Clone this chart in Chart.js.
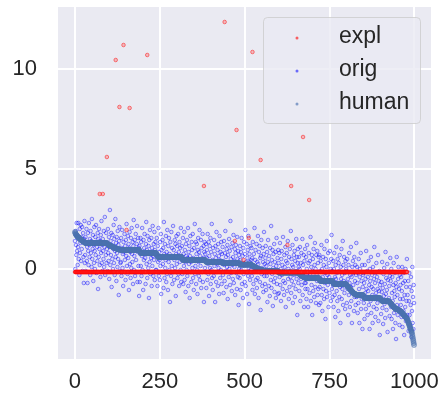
<!DOCTYPE html>
<html>
<head>
<meta charset="utf-8">
<script src="https://cdn.jsdelivr.net/npm/chart.js@4"></script>
<style>
html,body{margin:0;padding:0;background:#ffffff;}
canvas{display:block;}
</style>
</head>
<body>
<canvas id="c" width="441" height="401"></canvas>
<script>
// ---- data ----
const seriesNames = ['expl', 'orig', 'human'];
const xTicks = [0, 250, 500, 750, 1000];
const yTicks = [0, 5, 10];

const expl = [
-.15,-.15,-.15,-.15,-.15,-.15,-.15,-.15,-.15,-.15,
-.15,-.15,-.15,-.15,-.15,-.15,-.15,-.15,-.15,-.15,
-.15,-.15,-.15,-.15,-.15,-.15,-.15,-.15,-.15,-.15,
-.15,-.15,-.15,-.15,-.15,-.15,-.15,-.15,-.15,-.15,
-.15,-.15,-.15,-.15,-.15,-.15,-.15,-.15,-.15,-.15,
-.15,-.15,-.15,-.15,-.15,-.15,-.15,-.15,-.15,-.15,
-.15,-.15,-.15,-.15,-.15,-.15,-.15,-.15,-.15,-.15,
-.15,-.15,-.15,3.75,-.15,-.15,-.15,-.15,-.15,-.15,
-.15,-.15,3.75,-.15,-.15,-.15,-.15,-.15,-.15,-.15,
-.15,-.15,-.15,-.15,5.6,-.15,-.15,-.15,-.15,-.15,
-.15,-.15,-.15,-.15,-.15,-.15,-.15,-.15,-.15,-.15,
-.15,-.15,-.15,-.15,-.15,-.15,-.15,-.15,-.15,-.15,
10.45,-.15,-.15,-.15,-.15,-.15,-.15,-.15,-.15,-.15,
-.15,8.1,-.15,-.15,-.15,-.15,-.15,-.15,-.15,-.15,
-.15,-.15,-.15,11.2,-.15,-.15,-.15,-.15,-.15,-.15,
-.15,-.15,1.95,-.15,-.15,-.15,-.15,-.15,-.15,-.15,
-.15,8.05,-.15,-.15,-.15,-.15,-.15,-.15,-.15,-.15,
-.15,-.15,-.15,-.15,-.15,-.15,-.15,-.15,-.15,-.15,
-.15,-.15,-.15,-.15,-.15,-.15,-.15,-.15,-.15,-.15,
-.15,-.15,-.15,-.15,-.15,-.15,-.15,-.15,-.15,-.15,
-.15,-.15,-.15,-.15,-.15,-.15,-.15,-.15,-.15,-.15,
-.15,-.15,-.15,10.7,-.15,-.15,-.15,-.15,-.15,-.15,
-.15,-.15,-.15,-.15,-.15,-.15,-.15,-.15,-.15,-.15,
-.15,-.15,-.15,-.15,-.15,-.15,-.15,-.15,-.15,-.15,
-.15,-.15,-.15,-.15,-.15,-.15,-.15,-.15,-.15,-.15,
-.15,-.15,-.15,-.15,-.15,-.15,-.15,-.15,-.15,-.15,
-.15,-.15,-.15,-.15,-.15,-.15,-.15,-.15,-.15,-.15,
-.15,-.15,-.15,-.15,-.15,-.15,-.15,-.15,-.15,-.15,
-.15,-.15,-.15,-.15,-.15,-.15,-.15,-.15,-.15,-.15,
-.15,-.15,-.15,-.15,-.15,-.15,-.15,-.15,-.15,-.15,
-.15,-.15,-.15,-.15,-.15,-.15,-.15,-.15,-.15,-.15,
-.15,-.15,-.15,-.15,-.15,-.15,-.15,-.15,-.15,-.15,
-.15,-.15,-.15,-.15,-.15,-.15,-.15,-.15,-.15,-.15,
-.15,-.15,-.15,-.15,-.15,-.15,-.15,-.15,-.15,-.15,
-.15,-.15,-.15,-.15,-.15,-.15,-.15,-.15,-.15,-.15,
-.15,-.15,-.15,-.15,-.15,-.15,-.15,-.15,-.15,-.15,
-.15,-.15,-.15,-.15,-.15,-.15,-.15,-.15,-.15,-.15,
-.15,-.15,-.15,-.15,-.15,-.15,-.15,-.15,-.15,-.15,
4.15,-.15,-.15,-.15,-.15,-.15,-.15,-.15,-.15,-.15,
-.15,-.15,-.15,-.15,-.15,-.15,-.15,-.15,-.15,-.15,
-.15,-.15,-.15,-.15,-.15,-.15,-.15,-.15,-.15,-.15,
-.15,-.15,-.15,-.15,-.15,-.15,-.15,-.15,-.15,-.15,
-.15,-.15,-.15,-.15,-.15,-.15,-.15,-.15,-.15,-.15,
-.15,-.15,-.15,-.15,-.15,-.15,-.15,-.15,-.15,-.15,
-.15,12.35,-.15,-.15,-.15,-.15,-.15,-.15,-.15,-.15,
-.15,-.15,-.15,-.15,-.15,-.15,-.15,-.15,-.15,-.15,
-.15,-.15,-.15,-.15,-.15,-.15,-.15,-.15,-.15,-.15,
-.15,1.4,-.15,-.15,-.15,-.15,6.95,-.15,-.15,-.15,
-.15,-.15,-.15,-.15,-.15,-.15,-.15,-.15,-.15,-.15,
-.15,-.15,-.15,-.15,-.15,-.15,-.15,0.45,-.15,-.15,
-.15,-.15,-.15,-.15,-.15,-.15,-.15,-.15,-.15,-.15,
-.15,-.15,1.55,-.15,-.15,-.15,-.15,-.15,-.15,-.15,
-.15,-.15,-.15,10.85,-.15,-.15,-.15,-.15,-.15,-.15,
-.15,-.15,-.15,-.15,-.15,-.15,-.15,-.15,-.15,-.15,
-.15,-.15,-.15,-.15,-.15,-.15,-.15,5.45,-.15,-.15,
-.15,-.15,-.15,-.15,-.15,-.15,-.15,-.15,-.15,-.15,
-.15,-.15,-.15,-.15,-.15,-.15,-.15,-.15,-.15,-.15,
-.15,-.15,-.15,-.15,-.15,-.15,-.15,-.15,-.15,-.15,
-.15,-.15,-.15,-.15,-.15,-.15,-.15,-.15,-.15,-.15,
-.15,-.15,-.15,-.15,-.15,-.15,-.15,-.15,-.15,-.15,
-.15,-.15,-.15,-.15,-.15,-.15,-.15,-.15,-.15,-.15,
-.15,-.15,-.15,-.15,-.15,-.15,-.15,-.15,-.15,-.15,
-.15,-.15,-.15,-.15,-.15,-.15,1.2,-.15,-.15,-.15,
-.15,-.15,-.15,-.15,-.15,-.15,-.15,4.15,-.15,-.15,
-.15,-.15,-.15,-.15,-.15,-.15,-.15,-.15,-.15,-.15,
-.15,-.15,-.15,-.15,-.15,-.15,-.15,-.15,-.15,-.15,
-.15,-.15,-.15,-.15,-.15,-.15,-.15,-.15,-.15,-.15,
-.15,-.15,6.6,-.15,-.15,-.15,-.15,-.15,-.15,-.15,
-.15,-.15,-.15,-.15,-.15,-.15,-.15,-.15,-.15,-.15,
3.45,-.15,-.15,-.15,-.15,-.15,-.15,-.15,-.15,-.15,
-.15,-.15,-.15,-.15,-.15,-.15,-.15,-.15,-.15,-.15,
-.15,-.15,-.15,-.15,-.15,-.15,-.15,-.15,-.15,-.15,
-.15,-.15,-.15,-.15,-.15,-.15,-.15,-.15,-.15,-.15,
-.15,-.15,-.15,-.15,-.15,-.15,-.15,-.15,-.15,-.15,
-.15,-.15,-.15,-.15,-.15,-.15,-.15,-.15,-.15,-.15,
-.15,-.15,-.15,-.15,-.15,-.15,-.15,-.15,-.15,-.15,
-.15,-.15,-.15,-.15,-.15,-.15,-.15,-.15,-.15,-.15,
-.15,-.15,-.15,-.15,-.15,-.15,-.15,-.15,-.15,-.15,
-.15,-.15,-.15,-.15,-.15,-.15,-.15,-.15,-.15,-.15,
-.15,-.15,-.15,-.15,-.15,-.15,-.15,-.15,-.15,-.15,
-.15,-.15,-.15,-.15,-.15,-.15,-.15,-.15,-.15,-.15,
-.15,-.15,-.15,-.15,-.15,-.15,-.15,-.15,-.15,-.15,
-.15,-.15,-.15,-.15,-.15,-.15,-.15,-.15,-.15,-.15,
-.15,-.15,-.15,-.15,-.15,-.15,-.15,-.15,-.15,-.15,
-.15,-.15,-.15,-.15,-.15,-.15,-.15,-.15,-.15,-.15,
-.15,-.15,-.15,-.15,-.15,-.15,-.15,-.15,-.15,-.15,
-.15,-.15,-.15,-.15,-.15,-.15,-.15,-.15,-.15,-.15,
-.15,-.15,-.15,-.15,-.15,-.15,-.15,-.15,-.15,-.15,
-.15,-.15,-.15,-.15,-.15,-.15,-.15,-.15,-.15,-.15,
-.15,-.15,-.15,-.15,-.15,-.15,-.15,-.15,-.15,-.15,
-.15,-.15,-.15,-.15,-.15,-.15,-.15,-.15,-.15,-.15,
-.15,-.15,-.15,-.15,-.15,-.15,-.15,-.15,-.15,-.15,
-.15,-.15,-.15,-.15,-.15,-.15,-.15,-.15,-.15,-.15,
-.15,-.15,-.15,-.15,-.15,-.15,-.15,-.15,-.15,-.15,
-.15,-.15,-.15,-.15,-.15,-.15,-.15,-.15,-.15,-.15,
-.15,-.15,-.15,-.15,-.15,-.15,-.15,-.15,-.15,-.15,
-.15,-.15,-.15,-.15,-.15,-.15,-.15,-.15,-.15,-.15,
-.15,-.15,-.15,-.15,-.15,-.15,-.15,-.15,-.15,-.15
];

const orig = [
1.4,0.0,1.9,1.2,0.7,2.3,0.9,1.7,0.2,1.1,
2.3,0.5,1.5,-0.3,2.0,0.8,1.3,2.2,0.4,1.6,
1.0,2.1,-0.1,1.4,1.8,0.6,-0.7,1.5,2.4,0.3,
0.7,1.6,-0.1,1.3,2.0,0.4,1.1,-0.7,1.8,0.9,
0.2,2.3,1.2,0.6,1.5,-0.3,1.9,0.8,1.4,0.1,
2.5,0.5,1.0,1.7,-0.6,1.2,0.3,2.1,0.9,0.0,
1.6,0.7,2.2,-0.2,1.3,1.1,0.4,1.8,-1.0,1.5,
0.6,2.0,1.0,0.2,1.4,-0.4,1.7,0.8,2.4,0.3,
1.2,-0.1,1.5,0.9,0.5,1.9,0.1,1.1,2.6,-0.3,
1.3,0.7,1.8,0.3,1.0,
1.3,-0.1,2.0,0.8,0.4,1.6,-0.5,1.1,2.95,0.2,
1.4,0.7,1.8,-0.9,1.2,0.5,1.7,0.0,1.0,2.2,
0.3,1.5,-0.3,0.9,2.5,0.6,1.3,-0.6,1.6,0.8,
0.1,1.9,0.5,1.2,-1.3,1.4,2.1,-0.1,1.0,0.3,
0.35,1.55,-0.35,1.05,1.95,0.05,0.75,-0.85,1.35,0.85,
-0.15,1.75,0.45,1.15,-0.55,1.45,0.65,2.25,0.15,0.95,
-0.25,1.65,0.55,1.25,-1.05,1.05,1.85,0.25,0.85,-0.45,
1.55,0.05,2.05,0.75,0.35,1.35,-0.75,1.15,2.45,-0.05,
0.65,1.45,-0.35,0.95,1.75,0.45,-0.15,1.25,2.15,-0.65,
0.85,1.55,0.15,1.05,-1.35,
1.15,-0.65,0.75,1.55,0.15,1.35,-0.35,0.65,2.05,-0.05,
0.85,-1.05,1.45,0.45,1.05,1.75,-0.15,0.55,-0.75,1.25,
2.35,0.25,0.95,-0.45,1.65,0.75,0.05,1.15,-1.45,1.45,
0.35,1.95,-0.25,0.85,0.55,1.55,-0.85,1.05,0.15,2.15,
0.65,-0.35,1.25,0.45,1.85,-0.55,0.95,1.35,-0.05,0.75,
-0.05,1.55,0.65,-0.85,1.15,0.35,2.05,-0.35,0.85,0.45,
-0.55,1.35,0.15,1.75,-1.25,0.95,0.55,-0.15,1.45,0.25,
1.05,-0.95,2.35,0.75,-0.45,1.25,0.05,0.45,1.65,-0.65,
0.85,-0.25,1.95,0.65,-1.05,1.15,0.35,1.55,-0.05,0.75,
-1.65,1.35,0.55,-0.35,1.85,0.15,1.05,-0.75,0.65,2.15,
-0.15,0.95,-0.55,0.45,1.45,0.05,1.25,-1.35,0.75,1.65,
0.25,1.15,-0.45,0.55,1.75,-0.25,0.85,-0.85,1.35,0.35,
1.05,-0.05,2.05,-0.65,0.65,
1.15,-0.25,0.45,1.55,-0.75,0.75,0.15,1.85,-0.55,0.95,
0.35,-1.15,1.25,0.65,-0.05,1.45,-0.35,0.55,2.05,-0.85,
0.85,0.25,1.15,-1.45,0.65,1.65,-0.15,0.35,-0.65,1.35,
0.95,0.05,1.75,-0.45,0.55,-1.05,1.05,0.45,2.25,-0.25,
0.15,1.35,-0.75,0.75,1.25,-0.05,-1.25,0.95,1.55,0.35,
-0.35,0.85,1.95,-0.55,0.65,0.15,1.45,-0.95,1.05,0.45,
-0.15,1.75,-0.65,0.55,1.15,-1.65,0.85,1.35,0.05,0.75,
-0.15,1.25,-0.95,0.55,0.95,-0.55,1.75,0.25,-0.25,1.35,
-1.35,0.65,1.15,0.05,1.55,-0.75,0.85,-0.05,2.25,-0.45,
0.45,-1.05,1.05,0.35,-0.35,1.45,0.15,0.75,-1.65,1.15,
0.55,-0.65,1.85,-0.15,0.25,0.95,-0.85,1.25,0.05,0.65,
-1.25,1.65,0.45,-0.45,0.85,-0.05,1.35,-0.75,0.75,0.25,
1.1,-0.3,0.4,-1.2,1.4,0.2,-0.6,0.8,1.9,-0.1,
0.6,-0.9,1.0,0.1,1.2,-1.5,0.7,0.3,-0.4,1.5,
0.0,0.9,-0.8,2.4,0.5,-0.2,1.1,-1.1,0.2,1.3,
-0.5,0.6,1.7,-0.7,0.4,0.1,1.0,-1.3,0.8,1.2,
-0.2,0.3,-1.0,1.6,0.5,-0.4,0.9,-1.8,0.7,0.0,
-0.45,1.15,0.45,-1.05,0.85,-0.05,1.55,-0.75,0.25,0.65,
-1.45,1.05,-0.25,1.35,0.15,-0.65,0.75,1.95,-0.85,0.35,
-0.15,1.25,-1.25,0.55,0.95,-0.35,1.65,0.05,-1.75,0.75,
0.35,-0.55,1.15,-0.05,0.45,
1.05,-0.35,0.55,-1.05,1.35,0.15,-0.75,0.75,-0.15,2.05,
-1.25,0.45,0.95,-0.55,0.05,1.25,-0.95,0.35,-0.45,1.65,
0.25,-1.45,0.85,-0.05,1.15,-0.65,0.55,-2.05,0.65,1.45,
-0.25,0.05,-0.85,1.05,0.35,-1.15,0.75,1.85,-0.35,0.25,
-0.75,0.55,1.15,-1.05,0.15,-0.35,0.85,-1.65,0.35,1.45,
-0.15,-0.85,0.65,-0.05,-1.35,1.05,0.25,-0.55,2.15,-0.95,
0.45,-0.25,0.95,-1.85,0.05,0.75,-0.65,1.25,-1.15,0.35,
-0.45,0.85,-1.45,0.15,1.55,-0.75,-0.05,0.55,-1.25,0.95,
0.3,-1.2,0.8,-0.4,1.3,-0.8,0.0,-1.6,0.5,0.9,
-0.3,0.2,-1.0,1.6,-0.6,-0.1,-1.3,0.7,0.1,-0.7,
1.1,-1.9,0.4,-0.2,0.8,-1.1,0.3,1.4,-0.5,0.0,
-1.5,0.6,-0.9,1.0,-0.1,-0.4,1.9,-1.2,0.5,-0.6,
0.2,1.2,-1.7,0.1,-0.8,0.7,-0.3,0.9,-1.4,0.4,
-1.0,-0.1,1.5,-0.5,0.6,-2.3,0.3,1.0,-0.7,0.1,
0.6,-1.1,0.0,1.1,-1.6,0.3,-0.5,0.8,-0.8,-0.2,
1.5,-1.3,0.2,-0.4,0.7,-1.9,0.4,-0.7,1.0,-1.0,
-0.7,0.6,-1.5,0.0,1.2,-1.0,-0.2,-1.9,0.3,0.8,
-0.5,-1.2,0.4,-0.3,1.6,-1.6,0.1,-0.8,0.7,-2.3,
-0.1,0.5,-1.1,1.0,-0.4,-1.4,0.2,1.3,-0.9,0.0,
-1.7,0.7,-0.3,-0.6,0.9,-1.3,0.3,-1.0,0.6,-1.8,
0.7,-0.9,-0.1,-1.7,0.4,-0.5,1.2,-1.3,0.0,-2.1,
-0.4,0.6,-1.0,0.2,-1.5,1.0,-0.7,-0.2,-2.5,0.5,
-1.1,0.1,1.4,-1.4,-0.3,-0.8,0.8,-1.9,0.3,-0.4,
-1.2,0.9,-0.6,0.0,-1.6,0.5,1.7,-1.0,-0.1,-1.4,
-0.8,0.4,-1.9,0.0,0.8,-1.3,-0.4,-2.4,0.2,-0.5,
1.1,-1.1,-0.2,-1.6,0.5,-0.7,-2.1,0.3,-0.1,-1.4,
0.7,-0.9,-2.7,0.1,-0.5,1.0,-1.5,-0.3,-1.0,1.4,
-1.8,0.2,-0.6,0.6,-1.2,-0.2,-2.0,0.4,-0.7,0.0,
-0.1,-1.7,0.5,-1.0,-0.5,-2.3,0.2,-1.3,0.8,-0.7,
-1.9,-0.3,-0.9,1.1,-1.6,-0.4,-2.7,0.1,-1.1,0.4,
-0.8,-0.2,-2.1,0.6,-1.4,-0.6,0.2,-1.8,-0.3,1.3,
-1.4,0.1,-0.7,-2.2,-0.2,-1.7,0.5,-1.0,-2.7,-0.4,
0.0,-1.3,0.8,-2.0,-0.6,-1.5,0.2,-3.0,-0.9,-0.3,
-0.2,-1.7,-0.7,-2.5,0.2,-1.2,-0.5,-2.0,0.9,-1.0,
-1.4,-0.1,-2.3,-0.4,-1.1,0.4,-1.8,-0.8,-3.0,0.0,
-0.6,-1.6,0.6,-2.2,-0.9,-0.3,-1.3,-2.7,0.1,-1.0,
-1.9,-0.5,1.1,-1.5,-0.7,-2.4,-0.2,-1.2,0.3,-2.0,
-0.4,-1.7,-1.0,0.7,-2.6,-0.6,-1.1,-0.1,-3.3,-0.8,
-1.55,-0.15,-2.25,-0.65,-1.15,0.35,-1.95,-0.95,-2.75,-0.25,
-1.35,0.05,-1.75,-0.75,-2.45,0.85,-1.25,-0.45,-2.05,-1.05,
0.25,-3.15,-0.55,-1.65,-0.15,-1.45,-0.85,-2.35,-0.35,0.55,
-0.6,-1.9,0.0,-2.5,-1.2,-0.4,-1.6,-3.0,-0.8,0.3,
-2.2,-1.1,-1.4,-0.2,-2.7,-0.7,-3.5,-0.9,0.6,-1.8,
-1.3,-2.3,-0.5,0.1,-2.0,-1.0,-2.8,-0.3,-1.5,-0.8,
-1.8,-0.4,-2.4,-1.1,0.1,-2.9,-1.5,-0.7,-2.1,-0.2,
-3.3,-1.3,-0.6,-1.9,0.0,-2.6,-0.9,-1.6,0.5,-2.3,
-1.3,-2.6,-0.6,-3.1,-1.6,-0.2,-2.3,-0.9,-2.8,-1.8,
-0.4,-3.4,-1.1,-2.1,0.1,-2.7,-1.4,-3.0,-0.8,-1.7
];

const human = [
1.85,1.8,1.76,1.72,1.7,1.68,1.66,1.63,1.6,1.6,
1.58,1.56,1.55,1.54,1.52,1.5,1.48,1.47,1.46,1.45,
1.44,1.42,1.4,1.4,1.38,1.37,1.36,1.35,1.34,1.33,
1.3,1.3,1.3,1.3,1.3,1.3,1.3,1.3,1.3,1.3,
1.3,1.3,1.3,1.3,1.3,1.3,1.3,1.3,1.3,1.3,
1.3,1.3,1.3,1.3,1.3,1.3,1.3,1.3,1.3,1.3,
1.3,1.3,1.3,1.3,1.3,1.3,1.3,1.3,1.3,1.3,
1.3,1.3,1.3,1.3,1.3,1.3,1.3,1.3,1.3,1.3,
1.3,1.3,1.3,1.3,1.3,1.3,1.3,1.3,1.3,1.3,
1.3,1.3,1.3,1.3,1.3,
1.26,1.25,1.24,1.23,1.22,1.2,1.2,1.18,1.17,1.16,
1.15,1.15,1.14,1.13,1.12,1.12,1.1,1.1,1.1,1.1,
1.08,1.07,1.06,1.05,1.05,1.04,1.03,1.02,1.02,1.01,
1.0,1.0,1.0,0.99,0.98,0.98,0.97,0.97,0.96,0.96,
0.95,0.95,0.95,0.95,0.95,0.95,0.95,0.95,0.95,0.95,
0.95,0.95,0.95,0.95,0.95,0.95,0.95,0.95,0.95,0.95,
0.95,0.95,0.95,0.95,0.95,0.95,0.95,0.95,0.95,0.95,
0.95,0.95,0.95,0.95,0.95,0.95,0.95,0.95,0.95,0.95,
0.95,0.95,0.95,0.95,0.95,0.95,0.95,0.95,0.95,0.95,
0.95,0.95,0.95,0.95,0.95,
0.92,0.88,0.85,0.82,0.8,0.8,0.8,0.8,0.8,0.8,
0.8,0.8,0.8,0.8,0.8,0.8,0.8,0.8,0.8,0.8,
0.8,0.8,0.8,0.8,0.8,0.8,0.8,0.8,0.8,0.8,
0.8,0.8,0.8,0.8,0.8,0.8,0.8,0.8,0.8,0.8,
0.8,0.8,0.8,0.8,0.8,0.8,0.8,0.8,0.8,0.8,
0.76,0.72,0.68,0.65,0.6,0.6,0.6,0.6,0.6,0.6,
0.6,0.6,0.6,0.6,0.6,0.6,0.6,0.6,0.6,0.6,
0.6,0.6,0.6,0.6,0.6,0.6,0.6,0.6,0.6,0.6,
0.6,0.6,0.6,0.6,0.6,0.6,0.6,0.6,0.6,0.6,
0.6,0.6,0.6,0.6,0.6,0.6,0.6,0.6,0.6,0.6,
0.6,0.6,0.6,0.6,0.6,0.6,0.6,0.6,0.6,0.6,
0.6,0.6,0.6,0.6,0.6,0.6,0.6,0.6,0.6,0.6,
0.6,0.6,0.6,0.6,0.6,
0.55,0.5,0.48,0.45,0.45,0.45,0.45,0.45,0.45,0.45,
0.45,0.45,0.45,0.45,0.45,0.45,0.45,0.45,0.45,0.45,
0.45,0.45,0.45,0.45,0.45,0.45,0.45,0.45,0.45,0.45,
0.45,0.45,0.45,0.45,0.45,0.45,0.45,0.45,0.45,0.45,
0.45,0.45,0.45,0.45,0.45,0.45,0.45,0.45,0.45,0.45,
0.45,0.45,0.45,0.45,0.45,0.45,0.45,0.45,0.45,0.45,
0.45,0.45,0.45,0.45,0.45,0.45,0.45,0.45,0.45,0.45,
0.4,0.38,0.35,0.35,0.35,0.35,0.35,0.35,0.35,0.35,
0.35,0.35,0.35,0.35,0.35,0.35,0.35,0.35,0.35,0.35,
0.35,0.35,0.35,0.35,0.35,0.35,0.35,0.35,0.35,0.35,
0.35,0.35,0.35,0.35,0.35,0.35,0.35,0.35,0.35,0.35,
0.35,0.35,0.35,0.35,0.35,0.35,0.35,0.35,0.35,0.35,
0.3,0.3,0.3,0.3,0.3,0.3,0.3,0.3,0.3,0.3,
0.3,0.3,0.3,0.3,0.3,0.3,0.3,0.3,0.3,0.3,
0.3,0.3,0.3,0.3,0.3,0.3,0.3,0.3,0.3,0.3,
0.3,0.3,0.3,0.3,0.3,0.3,0.3,0.3,0.3,0.3,
0.3,0.3,0.3,0.3,0.3,0.3,0.3,0.3,0.3,0.3,
0.26,0.24,0.22,0.22,0.22,0.22,0.22,0.22,0.22,0.22,
0.22,0.22,0.22,0.22,0.22,0.22,0.22,0.22,0.22,0.22,
0.22,0.22,0.22,0.22,0.22,0.22,0.22,0.22,0.22,0.22,
0.22,0.22,0.22,0.22,0.22,
0.2,0.19,0.18,0.17,0.16,0.15,0.14,0.13,0.12,0.11,
0.1,0.09,0.08,0.07,0.06,0.05,0.04,0.03,0.02,0.01,
0.0,0.0,-0.01,-0.01,-0.02,-0.02,-0.03,-0.03,-0.04,-0.04,
-0.05,-0.05,-0.06,-0.06,-0.07,-0.07,-0.08,-0.08,-0.09,-0.09,
-0.1,-0.1,-0.1,-0.1,-0.1,-0.1,-0.1,-0.1,-0.1,-0.1,
-0.1,-0.1,-0.1,-0.1,-0.1,-0.1,-0.1,-0.1,-0.1,-0.1,
-0.1,-0.1,-0.1,-0.1,-0.1,-0.1,-0.1,-0.1,-0.1,-0.1,
-0.1,-0.1,-0.1,-0.1,-0.1,-0.1,-0.1,-0.1,-0.1,-0.1,
-0.18,-0.18,-0.18,-0.18,-0.18,-0.18,-0.18,-0.18,-0.18,-0.18,
-0.18,-0.18,-0.18,-0.18,-0.18,-0.18,-0.18,-0.18,-0.18,-0.18,
-0.18,-0.18,-0.18,-0.18,-0.18,-0.18,-0.18,-0.18,-0.18,-0.18,
-0.18,-0.18,-0.18,-0.18,-0.18,-0.18,-0.18,-0.18,-0.18,-0.18,
-0.18,-0.18,-0.18,-0.18,-0.18,-0.18,-0.18,-0.18,-0.18,-0.18,
-0.18,-0.18,-0.18,-0.18,-0.18,-0.18,-0.18,-0.18,-0.18,-0.18,
-0.22,-0.24,-0.26,-0.28,-0.3,-0.31,-0.32,-0.33,-0.34,-0.35,
-0.36,-0.37,-0.38,-0.39,-0.4,-0.41,-0.42,-0.43,-0.44,-0.44,
-0.45,-0.45,-0.45,-0.45,-0.45,-0.45,-0.45,-0.45,-0.45,-0.45,
-0.45,-0.45,-0.45,-0.45,-0.45,-0.45,-0.45,-0.45,-0.45,-0.45,
-0.45,-0.45,-0.45,-0.45,-0.45,-0.45,-0.45,-0.45,-0.45,-0.45,
-0.45,-0.45,-0.45,-0.45,-0.45,-0.45,-0.45,-0.45,-0.45,-0.45,
-0.5,-0.55,-0.58,-0.6,-0.6,-0.6,-0.6,-0.6,-0.6,-0.6,
-0.6,-0.6,-0.6,-0.6,-0.6,-0.6,-0.6,-0.6,-0.6,-0.6,
-0.6,-0.6,-0.6,-0.6,-0.6,-0.6,-0.6,-0.6,-0.6,-0.6,
-0.6,-0.6,-0.6,-0.6,-0.6,-0.6,-0.6,-0.6,-0.6,-0.6,
-0.65,-0.7,-0.72,-0.75,-0.75,-0.75,-0.75,-0.75,-0.75,-0.75,
-0.75,-0.75,-0.75,-0.75,-0.75,-0.75,-0.75,-0.75,-0.75,-0.75,
-0.75,-0.75,-0.75,-0.75,-0.75,-0.75,-0.75,-0.75,-0.75,-0.75,
-0.75,-0.75,-0.75,-0.75,-0.75,-0.75,-0.75,-0.75,-0.75,-0.75,
-0.8,-0.82,-0.84,-0.86,-0.88,-0.9,-0.92,-0.94,-0.96,-0.98,
-1.0,-1.02,-1.04,-1.06,-1.08,-1.1,-1.12,-1.14,-1.16,-1.18,
-1.2,-1.21,-1.22,-1.23,-1.24,-1.25,-1.26,-1.27,-1.28,-1.29,
-1.3,-1.3,-1.3,-1.3,-1.3,-1.3,-1.3,-1.3,-1.3,-1.3,
-1.3,-1.3,-1.3,-1.3,-1.3,-1.3,-1.3,-1.3,-1.3,-1.3,
-1.35,-1.4,-1.42,-1.45,-1.45,-1.45,-1.45,-1.45,-1.45,-1.45,
-1.45,-1.45,-1.45,-1.45,-1.45,-1.45,-1.45,-1.45,-1.45,-1.45,
-1.45,-1.45,-1.45,-1.45,-1.45,-1.45,-1.45,-1.45,-1.45,-1.45,
-1.45,-1.45,-1.45,-1.45,-1.45,-1.45,-1.45,-1.45,-1.45,-1.45,
-1.45,-1.45,-1.45,-1.45,-1.45,-1.45,-1.45,-1.45,-1.45,-1.45,
-1.5,-1.52,-1.54,-1.56,-1.58,-1.6,-1.6,-1.6,-1.6,-1.6,
-1.6,-1.6,-1.6,-1.6,-1.6,-1.6,-1.6,-1.6,-1.6,-1.6,
-1.6,-1.6,-1.6,-1.6,-1.6,-1.62,-1.64,-1.66,-1.68,-1.7,
-1.72,-1.74,-1.76,-1.78,-1.8,-1.82,-1.84,-1.86,-1.88,-1.9,
-1.9,-1.92,-1.94,-1.96,-1.98,-2.0,-2.0,-2.0,-2.0,-2.0,
-2.0,-2.02,-2.04,-2.05,-2.06,-2.07,-2.08,-2.09,-2.1,-2.1,
-2.12,-2.14,-2.16,-2.18,-2.2,-2.22,-2.24,-2.26,-2.28,-2.3,
-2.32,-2.34,-2.36,-2.38,-2.4,-2.42,-2.44,-2.46,-2.48,-2.5,
-2.55,-2.6,-2.65,-2.7,-2.75,-2.8,-2.85,-2.9,-2.95,-3.0,
-3.05,-3.1,-3.15,-3.2,-3.3,-3.4,-3.5,-3.6,-3.7,-3.8
];

// ---- styling ----
const FONT = '"Liberation Sans", Arial, sans-serif';
const TEXT = '#262626';
const colors = {
  expl:  { border: 'rgba(255,0,0,0.6)',    fill: 'rgba(255,90,90,0.35)' },
  orig:  { border: 'rgba(0,0,255,0.55)',   fill: 'rgba(0,0,255,0.08)' },
  human: { border: 'rgba(76,114,176,0.65)', fill: 'rgba(76,114,176,0.4)' }
};
const toPts = arr => arr.map((v, i) => ({ x: i, y: v }));

const bgPlugin = {
  id: 'bg',
  beforeDraw(chart) {
    const { ctx, chartArea: a } = chart;
    ctx.save();
    ctx.fillStyle = '#EAEAF2';
    ctx.fillRect(a.left, a.top, a.right - a.left, a.bottom - a.top);
    ctx.restore();
  }
};

const legendPlugin = {
  id: 'boxLegend',
  afterDraw(chart) {
    const ctx = chart.ctx;
    ctx.save();
    const x = 263.5, y = 17.5, w = 157, h = 106, r = 4;
    ctx.beginPath();
    ctx.roundRect(x, y, w, h, r);
    ctx.fillStyle = 'rgba(234,234,242,0.8)';
    ctx.fill();
    ctx.strokeStyle = 'rgba(204,204,204,0.8)';
    ctx.lineWidth = 1;
    ctx.stroke();
    ctx.font = '23px ' + FONT;
    ctx.textBaseline = 'middle';
    ctx.textAlign = 'left';
    seriesNames.forEach((name, i) => {
      const cy = 37 + i * 33;
      ctx.beginPath();
      ctx.arc(297, cy + 1, 1.5, 0, Math.PI * 2);
      ctx.fillStyle = colors[name].border;
      ctx.fill();
      ctx.fillStyle = TEXT;
      ctx.fillText(name, 339, cy);
    });
    ctx.restore();
  }
};

const mkDs = (name, arr, order, r) => ({
  label: name,
  data: toPts(arr),
  order: order,
  pointRadius: r,
  pointBorderWidth: 0.8,
  pointBorderColor: colors[name].border,
  pointBackgroundColor: colors[name].fill,
  pointHoverRadius: r
});

new Chart(document.getElementById('c'), {
  type: 'scatter',
  data: {
    datasets: [
      mkDs('expl', expl, 0, 1.8),
      mkDs('orig', orig, 2, 1.8),
      mkDs('human', human, 1, 2.5)
    ]
  },
  options: {
    responsive: false,
    animation: false,
    devicePixelRatio: 1,
    layout: { padding: { top: 7, right: 10, left: 0, bottom: 0 } },
    plugins: { legend: { display: false }, tooltip: { enabled: false } },
    scales: {
      x: {
        type: 'linear',
        min: -50, max: 1049,
        afterBuildTicks: s => { s.ticks = xTicks.map(v => ({ value: v })); },
        afterFit: s => { s.height = 42; s.paddingLeft = 0; s.paddingRight = 0; },
        grid: { color: '#ffffff', lineWidth: 2, drawTicks: false },
        border: { display: false },
        ticks: { font: { size: 22, family: FONT }, color: TEXT, padding: 10, maxRotation: 0,
                 callback: v => String(v) }
      },
      y: {
        type: 'linear',
        min: -4.5, max: 13.1,
        afterBuildTicks: s => { s.ticks = yTicks.map(v => ({ value: v })); },
        afterFit: s => { s.width = 58; s.paddingTop = 0; s.paddingBottom = 0; },
        grid: { color: '#ffffff', lineWidth: 2, drawTicks: false },
        border: { display: false },
        ticks: { font: { size: 22, family: FONT }, color: TEXT, padding: 21,
                 callback: v => String(v) }
      }
    }
  },
  plugins: [bgPlugin, legendPlugin]
});
</script>
</body>
</html>
